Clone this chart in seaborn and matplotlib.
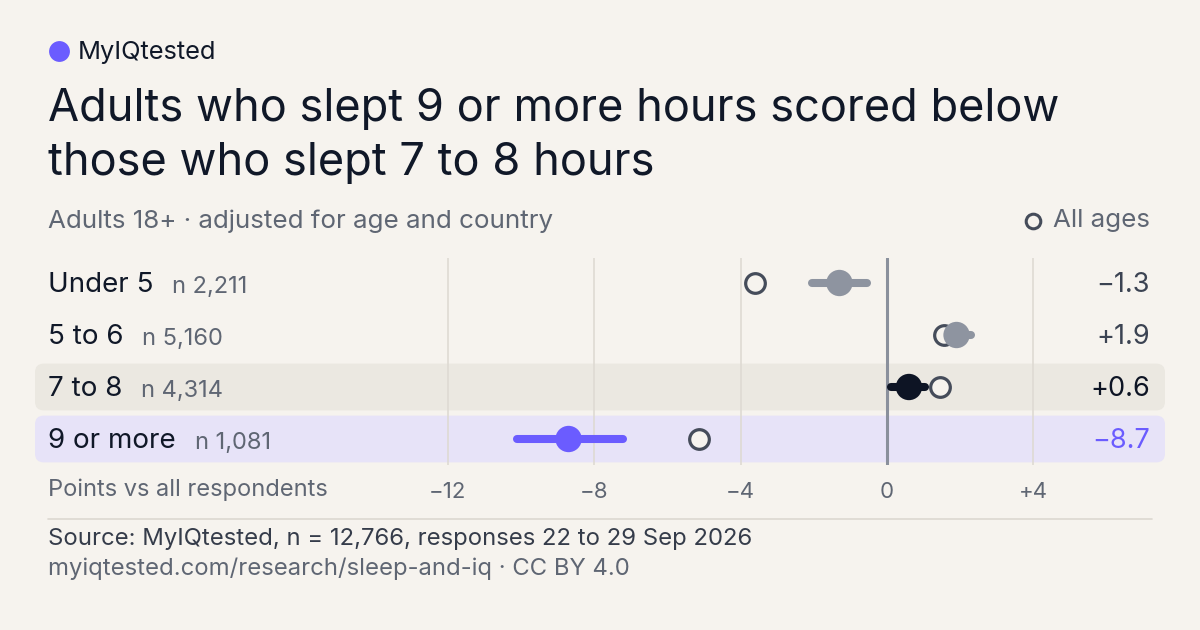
#!/usr/bin/env python3
# -*- coding: utf-8 -*-
"""
Dot plot of IQ points vs all respondents by hours of sleep, with the
all-ages estimate drawn as an open circle next to each group.
"""

import matplotlib
matplotlib.use('Agg')
import matplotlib.pyplot as plt
from matplotlib.patches import FancyBboxPatch
from matplotlib.lines import Line2D
from matplotlib.transforms import blended_transform_factory
import pandas as pd
import seaborn as sns

groups = ['Under 5', '5 to 6', '7 to 8', '9 or more']
n_labels = ['n 2,211', 'n 5,160', 'n 4,314', 'n 1,081']
adjusted = [-1.3, 1.9, 0.6, -8.7]
ci_low = [-2.05, 1.6, 0.1, -10.1]
ci_high = [-0.55, 2.3, 1.05, -7.2]
all_ages = [-3.6, 1.55, 1.45, -5.15]
value_labels = ['\u22121.3', '+1.9', '+0.6', '\u22128.7']
ticks = [-12, -8, -4, 0, 4]
tick_labels = ['\u221212', '\u22128', '\u22124', '0', '+4']

BG = '#f6f3ee'
INK = '#101828'
GREY_TXT = '#5f6673'
DOT_GREY = '#8e94a0'
PURPLE = '#6b5cff'
row_colors = [DOT_GREY, DOT_GREY, '#0d1424', PURPLE]
value_colors = ['#3b4352', '#3b4352', '#0d1424', PURPLE]

W, H = 1200, 630


def fx(px):
    return px / W


def fy(py):
    return 1 - py / H


sns.set_theme(style='white')
plt.rcParams['font.family'] = ['Inter', 'DejaVu Sans']

fig = plt.figure(figsize=(12, 6.3), dpi=100, facecolor=BG)

# plot area in pixels: x 35..1165, y 258..465 ; 0 at x=887, 36.6 px per point
ax_left, ax_right, ax_top, ax_bot = 35, 1165, 258, 465
ax = fig.add_axes([fx(ax_left), fy(ax_bot), (ax_right - ax_left) / W, (ax_bot - ax_top) / H])
ax.set_facecolor('none')
px_per_x = 36.6
x0 = 887
ax.set_xlim((ax_left - x0) / px_per_x, (ax_right - x0) / px_per_x)
row0, row_step = 283, 52
ax.set_ylim((ax_bot - row0) / row_step, (ax_top - row0) / row_step)
for s in ax.spines.values():
    s.set_visible(False)
ax.set_yticks([])

# highlight bands for the reference group and the group of interest
xmin, xmax = ax.get_xlim()
aspect = (1 / row_step) / (1 / px_per_x)
for i, col in [(2, '#ebe8e1'), (3, '#e7e3f8')]:
    band = FancyBboxPatch((xmin, i - 0.45), xmax - xmin, 0.9,
                          boxstyle='round,pad=0,rounding_size=0.24',
                          mutation_aspect=aspect, facecolor=col,
                          edgecolor='none', zorder=0)
    ax.add_patch(band)

for t in ticks:
    if t == 0:
        ax.axvline(t, color='#8a909c', lw=2.2, zorder=1)
    else:
        ax.axvline(t, color='#dedad3', lw=1.2, zorder=1)

df = pd.DataFrame({'group': groups, 'adjusted': adjusted, 'low': ci_low,
                   'high': ci_high, 'all_ages': all_ages, 'row': range(len(groups))})

ax.hlines(df['row'], df['low'], df['high'], colors=row_colors, lw=5.8,
          capstyle='round', zorder=2)
sns.scatterplot(data=df, x='all_ages', y='row', ax=ax, s=200, marker='o',
                facecolor=BG, edgecolor='#454c5a', linewidth=2.3, zorder=3,
                legend=False)
sns.scatterplot(data=df, x='adjusted', y='row', hue='group', palette=dict(zip(groups, row_colors)),
                ax=ax, s=360, marker='o', linewidth=0, zorder=4, legend=False)
ax.set_xlabel('')
ax.set_ylabel('')

ax.set_xticks(ticks)
ax.set_xticklabels(tick_labels)
ax.tick_params(axis='x', length=0, pad=12, labelsize=16, labelcolor=GREY_TXT)

# row labels on the left and values on the right
trans = blended_transform_factory(fig.transFigure, ax.transData)
fig.canvas.draw()
renderer = fig.canvas.get_renderer()
for i, g in enumerate(groups):
    t = ax.text(fx(48), i + 0.04, g, transform=trans, ha='left', va='center',
                fontsize=20, color=INK)
    bb = t.get_window_extent(renderer)
    ax.text(fx(bb.x1 + 19), i + 0.07, n_labels[i], transform=trans, ha='left',
            va='center', fontsize=17, color=GREY_TXT)
    ax.text(fx(1150), i + 0.04, value_labels[i], transform=trans, ha='right',
            va='center', fontsize=19.5, color=value_colors[i])

fig.text(fx(48), fy(490), 'Points vs all respondents', ha='left', va='center',
         fontsize=17, color=GREY_TXT)

# header
fig.lines.append(Line2D([fx(59)], [fy(51)], transform=fig.transFigure, marker='o',
                        markersize=15, color=PURPLE, markeredgewidth=0))
fig.text(fx(78), fy(52), 'MyIQtested', ha='left', va='center', fontsize=18.3, color=INK)
fig.text(fx(48), fy(109), 'Adults who slept 9 or more hours scored below',
         ha='left', va='center', fontsize=32.5, color=INK)
fig.text(fx(48), fy(163), 'those who slept 7 to 8 hours',
         ha='left', va='center', fontsize=32.5, color=INK)
fig.text(fx(48), fy(221), 'Adults 18+ \u00b7 adjusted for age and country',
         ha='left', va='center', fontsize=18.7, color=GREY_TXT)

# legend
fig.lines.append(Line2D([fx(1033)], [fy(221)], transform=fig.transFigure, marker='o',
                        markersize=10.5, markerfacecolor=BG, markeredgecolor='#454c5a',
                        markeredgewidth=2.2))
fig.text(fx(1150), fy(221), 'All ages', ha='right', va='center', fontsize=18.7, color=GREY_TXT)

# footer
fig.lines.append(Line2D([fx(48), fx(1152)], [fy(519), fy(519)], transform=fig.transFigure,
                        color='#dcd8d0', lw=1.2))
fig.text(fx(48), fy(539), 'Source: MyIQtested, n = 12,766, responses 22 to 29 Sep 2026',
         ha='left', va='center', fontsize=17.2, color='#353c4a')
fig.text(fx(48), fy(569), 'myiqtested.com/research/sleep-and-iq \u00b7 CC BY 4.0',
         ha='left', va='center', fontsize=17.2, color=GREY_TXT)

fig.savefig('out.png', dpi=100, facecolor=BG)
plt.close(fig)
